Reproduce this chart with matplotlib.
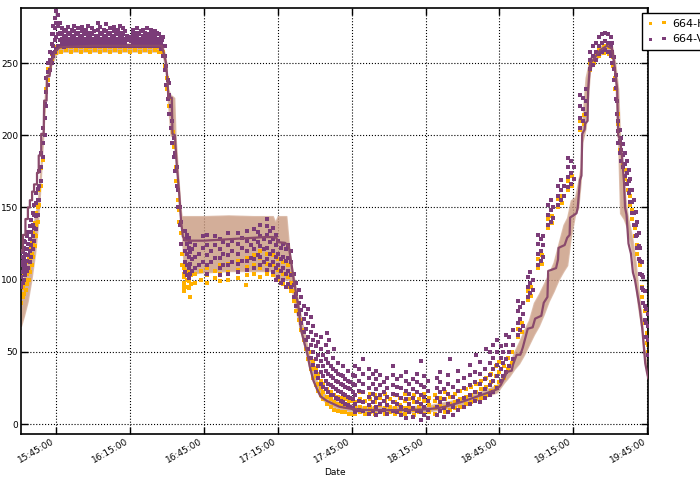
import numpy as np
import matplotlib
matplotlib.use("Agg")
import matplotlib.pyplot as plt
import matplotlib.dates as mdates
from datetime import datetime

# ---------------- data (minutes after 15:00) ----------------
line_min = [30.8, 31.6, 31.6, 32.6, 32.6, 33.6, 33.6, 34.4, 34.4, 35.3, 35.3, 36.1, 36.1, 37.3, 37.3,
            38.0, 38.0, 39.0, 39.0, 40.0, 40.2, 41.2, 41.3, 42.4, 43.0, 44.0, 44.6, 46.5, 60, 75, 88.0,
            89.7, 90.3, 90.6, 92.0, 92.3, 93.3, 93.5, 94.0, 95.0, 95.8, 96.5, 97.5,
            105, 110, 115, 120, 125, 130, 133, 134.5, 135.0, 138, 139.5,
            140.5, 141.5, 143.5, 144.5, 146.0, 147.0, 148.0, 149.5, 151.0, 152.5, 155, 160, 165, 170,
            180, 190, 195, 200, 203, 206, 210, 215, 220, 224, 225.5, 227, 228, 230, 230.5, 232, 233.5,
            234.5, 236.5, 238.5, 239.5, 242, 243, 244.5, 244.8, 248, 248.8, 249, 251.5, 252.5, 253.5,
            253.7, 256.3, 256.8, 257.7, 258.3, 258.6, 259.6, 259.8, 260.8, 261.0, 261.8, 263.0, 265.9,
            268.7, 270.7, 271.6, 272.8, 273.2, 274.0, 274.8, 275.6, 276.0, 276.6, 277.4, 278.4, 279.2,
            280.0, 281.0, 282.0, 283.0, 283.5, 284.2, 285.0, 285.4]
line_val = [120, 120, 131, 131, 142, 142, 150, 150, 155, 155, 161, 161, 166, 166, 174,
            174, 186, 186, 201, 201, 224, 224, 241, 241, 250, 255, 258, 261, 262, 262, 262,
            250, 237, 226, 226, 201, 200, 193, 180, 160, 140, 130, 127,
            127, 127.5, 128, 128.5, 129, 129.5, 129.5, 129, 126, 125.5, 123,
            112, 100, 80, 65, 55, 49, 40, 30, 24, 19, 16, 12, 10.5, 9.8,
            9.6, 9.8, 10.2, 11, 12, 13.5, 15.5, 18.5, 21.5, 24, 27, 32, 36, 37, 41, 48, 48,
            53, 66, 67, 73, 75, 84, 88, 106, 108, 114, 122, 124, 129, 131,
            143, 146, 150, 169, 172, 201, 204, 208, 210, 231, 250, 252, 259,
            262, 260, 250, 232, 200, 197, 185, 167, 150, 145, 125, 118, 105,
            100, 90, 80, 66, 56, 42, 35, 32]

band_min = [30.8, 32, 33.5, 35, 36.5, 37.5, 38.5, 39.5, 40.5, 41.5, 43, 45, 47, 88, 89.5, 90.5,
            91.5, 93, 93.5, 94.5, 95.5, 96.0, 97, 105, 115, 125, 133, 134, 135, 138.5, 139.5,
            140.5, 142, 144, 146, 148, 150, 152, 155, 160, 170, 195, 205, 215, 224, 227, 229,
            231, 233, 235, 237, 239, 241, 243, 245, 247, 249, 251, 252.5, 254, 255.7, 257, 258,
            258.6, 260, 261.8, 263, 266, 269, 270.7, 272, 273.2, 274.0, 275.5, 277, 279, 280.1,
            281.3, 283, 283.5, 284.5, 285.4]
band_lo = [68, 75, 85, 100, 118, 135, 160, 190, 220, 237, 248, 256, 258, 258, 246, 222,
           200, 198, 190, 165, 142, 135, 104, 105, 106, 106, 106, 101, 100, 100, 100,
           95, 82, 66, 53, 38, 27, 19, 14, 10, 8, 8.5, 11, 16, 22, 29, 33,
           38, 42, 48, 55, 62, 68, 76, 85, 92, 100, 106, 110, 130, 145, 150, 168,
           195, 205, 245, 250, 256, 258, 254, 240, 195, 146, 142, 135, 117, 100,
           81, 63, 51, 40, 31]
band_hi = [96, 103, 115, 128, 145, 152, 172, 198, 228, 243, 253, 261, 263, 264, 254, 232,
           228, 226, 200, 175, 150, 144, 144, 144, 144.5, 144, 144, 140, 144, 144, 125,
           110, 98, 78, 62, 46, 34, 25, 19, 15, 12, 12.5, 16, 21, 27, 36, 41,
           50, 57, 65, 72, 84, 90, 97, 104, 112, 125, 138, 143, 155, 157, 168, 178,
           210, 240, 254, 256, 262, 263, 262, 250, 232, 197, 165, 145, 128, 115,
           95, 70, 56, 44, 35]

# 664-H scatter: time columns and the values observed in each
h_col_min = [31.0, 31.6, 32.2, 32.8, 33.4, 34.0, 34.6, 35.2, 35.8, 36.4, 37.0, 37.6, 38.3, 39.0, 39.7,
             40.4, 41.1, 41.8, 42.5, 43.2,
             45, 47, 49, 51, 53, 55, 57, 59, 61, 63, 65, 67, 69, 71, 73, 75, 77, 79, 81, 83, 85, 87,
             88.4, 89.2, 90.0, 90.8, 91.6, 92.4, 93.0, 93.8, 94.4, 95.0, 95.6, 96.2, 96.8,
             97.0, 98.0, 99.0, 99.5, 100.0, 101.5, 104.0, 106.3, 109.5, 111.6, 114.8, 118.9, 122.0,
             122.5, 125.4, 127.8, 130.7, 133.1, 135.1, 137.2, 139.2,
             140.5, 141.5, 142.5, 143.5, 144.5, 145.5, 146.5, 147.5, 148.5, 149.5, 150.5, 151.5,
             152.5, 153.5, 155.0, 156.5, 158.0, 159.5, 161.0, 162.5, 164.0, 165.5,
             166.5, 168.5, 170.5, 172.5, 174.5, 176.5, 178.5, 180.5, 182.5, 184.5, 186.5, 188.5,
             190.5, 192.5, 194.5, 196.5, 199.0, 201.0, 203.0, 205.0, 207.0, 209.0, 211.5, 213.5,
             215.5, 217.5, 219.5, 221.5, 223.5, 225.0,
             227.0, 228.5, 230.0, 232.5, 234.0, 236.5, 238.0, 240.8, 242.3, 244.8, 246.3, 248.8,
             250.5, 252.9, 254.5, 257.8, 259.5, 261.8, 263.5, 265.5, 267.5, 269.5,
             271.0, 272.0, 273.0, 274.0, 275.0, 276.0, 277.0, 278.0, 279.0, 280.0, 281.0, 282.0,
             283.0, 284.0, 284.8, 285.3]
h_col_vals = [[84, 90, 96, 100], [88, 94, 100], [90, 97, 104], [93, 100, 108], [97, 104, 112],
              [100, 108, 116], [105, 113, 121], [110, 118, 126], [116, 124, 132], [123, 131, 139],
              [130, 138, 146], [140, 150], [152, 162], [165, 177], [183, 195],
              [200, 212], [220, 232], [238, 246], [246, 252], [252, 256],
              [257, 261], [258, 261], [259, 262], [258, 261], [259, 262], [258, 261], [259, 262],
              [258, 261], [259, 262], [258, 261], [259, 262], [258, 261], [259, 262], [258, 261],
              [259, 262], [258, 261], [259, 262], [258, 261], [259, 262], [258, 261], [259, 262],
              [258, 261],
              [258, 262], [248, 255], [232, 240], [220, 226], [205, 215], [195, 202], [185, 192],
              [168, 178], [155, 162], [140, 148], [125, 132], [110, 118], [95, 102, 108],
              [92, 98, 104, 110], [95, 100, 106], [94, 99, 105], [88], [97, 103], [98, 104],
              [100, 106], [98, 103, 108], [101, 106], [99, 104, 110], [100, 105, 111],
              [101, 107, 113], [96], [103, 109, 115], [104, 110, 117], [102, 108, 115, 120],
              [104, 111, 118], [103, 110, 117], [100, 107, 114], [97, 104, 112], [95, 102, 110],
              [92, 98, 104], [85, 92], [78, 85], [72, 78], [65, 72], [58, 65], [52, 58], [45, 52],
              [38, 45, 50], [32, 38, 44], [27, 33, 39], [23, 28, 35], [20, 25, 30], [17, 22, 28],
              [14, 19, 24], [12, 17, 22], [10, 15, 20], [9, 14, 19], [8, 13, 18], [8, 12, 17],
              [7, 12, 16], [7, 11, 16],
              [7, 11, 15, 20], [8, 12, 17, 22], [7, 11, 16], [8, 12, 17, 21], [7, 11, 15, 20],
              [8, 13, 18], [7, 11, 16, 21], [8, 12, 17], [7, 11, 15, 20], [8, 13, 18],
              [7, 11, 16, 21], [8, 12, 17], [6, 10, 15, 20], [8, 12, 17], [7, 11, 16, 21],
              [8, 13, 18], [7, 11, 16, 20], [9, 13, 18], [8, 12, 17, 22], [10, 14, 19],
              [11, 15, 21], [12, 17, 23], [14, 19, 24], [15, 20, 26], [17, 22, 28], [18, 24, 30],
              [20, 26, 32], [23, 29, 35], [26, 33, 40], [29, 36, 43],
              [32, 40], [38, 46], [42, 50], [60, 66], [64, 70], [86, 92], [89, 95], [108, 114],
              [111, 117], [136, 142], [139, 144], [150, 156], [153, 158], [162, 168], [165, 172],
              [204, 210], [208, 214], [245, 250], [250, 255], [255, 260], [257, 262], [256, 261],
              [248, 254], [232, 240], [208, 215], [190, 196], [180, 186], [170, 176], [162, 168],
              [152, 158], [142, 148], [130, 136], [118, 124], [104, 110], [88, 95], [70, 78],
              [56, 63], [50, 55]]

# 664-V scatter
v_col_min = [31.0, 31.5, 32.0, 32.6, 33.2, 33.8, 34.4, 35.0, 35.6, 36.2, 36.9, 37.6, 38.3, 39.0,
             39.7, 40.4, 41.1, 41.8, 42.5, 43.2, 43.9, 44.6, 45.2, 45.9,
             46.8, 47.6, 48.4, 49.2, 50.0, 50.8, 51.6, 52.4, 53.2, 54.0, 54.8, 55.6, 56.4, 57.2,
             58.0, 58.8, 59.6, 60.4, 61.2, 62.0, 62.8, 63.6, 64.4, 65.2, 66.0, 66.8, 67.6, 68.4,
             69.2, 70.0, 70.8, 71.6, 72.4, 73.2, 74.0, 75.6, 76.4, 77.2, 78.0, 78.8, 79.6, 80.4,
             81.2, 82.0, 82.8, 83.6, 84.4, 85.2, 86.0, 86.8, 87.6,
             88.0, 88.6, 89.2, 89.8, 90.4, 91.0, 91.6, 92.2, 92.8, 93.4, 94.0, 94.6, 95.2, 95.8,
             97.2, 98.0, 98.8, 99.6, 100.4, 101.4, 103.0, 104.5, 106.3, 108.0, 109.5, 111.6,
             113.0, 114.8, 116.5, 118.9, 120.5, 122.5, 124.0, 125.4, 127.0, 127.8, 129.5, 130.7,
             132.0, 133.1, 134.5, 135.1, 136.3, 137.2, 138.3, 139.2,
             140.5, 141.5, 142.5, 143.5, 144.5, 145.5, 146.5, 147.5, 148.5, 149.5, 150.5, 151.5,
             152.5, 153.5, 154.5, 155.0, 155.5, 156.0, 156.5, 157.5, 158.0, 158.5, 159.5, 160.5,
             161.5, 162.5, 163.5, 164.5, 165.5,
             166.5, 168.0, 169.5, 172.0, 173.5, 175.0, 176.5, 178.0, 179.5, 182.0, 183.5, 185.0,
             187.0, 188.5, 190.0, 191.5, 193.0, 194.5, 196.0, 199.5, 201.0, 202.5, 204.0, 205.0,
             206.0, 208.0, 210.5, 213.0, 215.0, 215.5, 217.0, 219.0, 219.5, 221.0, 222.5, 224.0,
             225.5, 226.5, 227.5, 229.0, 230.5, 232.5, 233.5, 234.5, 236.5, 237.5, 238.5, 240.8,
             241.8, 242.8, 244.8, 245.8, 246.8, 248.8, 250.0, 251.2, 252.9, 254.0, 255.2, 257.8,
             259.0, 260.2, 261.8, 263.0, 264.2, 265.5, 266.8, 268.0, 269.2, 270.2,
             270.8, 271.5, 272.3, 272.8, 273.2, 273.8, 274.5, 275.2, 276.0, 276.8, 277.5, 278.2,
             278.9, 279.6, 280.3, 281.0, 281.6, 282.2, 282.8, 283.4, 284.0, 284.6, 285.2]
v_col_vals = [[95, 102, 110, 116, 120], [98, 105, 112, 119], [100, 108, 115, 122, 127],
              [103, 110, 118, 126], [106, 113, 121, 130], [108, 117, 125, 133],
              [112, 120, 128, 137], [116, 124, 133, 141], [121, 130, 138, 146],
              [127, 136, 145, 152], [135, 144, 153, 160], [145, 155, 163], [155, 165, 175],
              [168, 178, 188], [185, 195, 205], [200, 212, 222], [220, 230, 240], [235, 244, 250],
              [245, 252, 258], [250, 257, 263, 270], [255, 262, 270, 276], [258, 266, 274, 281],
              [260, 268, 278, 286], [262, 270, 276, 283],
              [262, 266, 271, 278], [263, 267, 270, 274], [261, 265, 269, 273], [263, 268, 272],
              [262, 266, 270, 275], [264, 267, 271], [262, 265, 269, 273], [263, 268, 272, 276],
              [262, 266, 270], [264, 267, 271, 274], [262, 266, 269], [263, 268, 272, 275],
              [262, 265, 270], [264, 267, 271, 273], [262, 266, 269, 276], [263, 268, 271],
              [262, 265, 270, 274], [264, 267, 272], [262, 266, 269], [263, 268, 273, 278],
              [262, 265, 270, 275], [264, 267, 271], [262, 266, 269, 273], [263, 268, 272, 277],
              [262, 265, 270], [264, 267, 271, 274], [262, 266, 269], [263, 268, 272, 275],
              [262, 265, 270], [264, 267, 271, 273], [262, 266, 269, 276], [263, 268, 271],
              [262, 265, 270, 274], [264, 267, 272], [262, 266, 269], [262, 265, 268],
              [263, 267, 270, 273], [262, 266, 269], [264, 268, 271, 274], [262, 265, 270],
              [263, 267, 272], [262, 266, 269, 273], [264, 268, 271], [262, 265, 270, 274],
              [263, 267, 269], [262, 266, 271, 273], [264, 268, 270], [262, 265, 269, 272],
              [263, 267, 271], [262, 266, 270], [260, 264, 268],
              [262, 266], [255, 262, 268], [245, 255, 262], [235, 248], [225, 238],
              [215, 228, 236], [205, 220], [195, 210], [185, 198], [175, 188], [165, 178],
              [150, 162], [138, 150], [125, 140],
              [105, 112, 120, 128, 134], [103, 110, 118, 125, 131], [101, 108, 116, 122, 129],
              [104, 111, 119, 126], [106, 114, 121], [108, 116, 124], [110, 118], [112, 122, 130],
              [104, 110, 117, 124, 131], [112, 120], [115, 124, 130], [103, 108, 115, 121, 128],
              [110, 118, 126], [104, 110, 117, 124, 132], [112, 120, 127],
              [105, 111, 118, 125, 132], [113, 122, 129], [107, 113, 120, 127, 134], [115, 124],
              [108, 114, 121, 128, 135], [117, 126, 133], [110, 116, 123, 130, 138],
              [112, 121, 128], [107, 114, 122, 131, 137, 142], [110, 118, 126, 134],
              [105, 112, 120, 128, 136], [100, 108, 116, 124, 131], [102, 110, 118, 127],
              [98, 106, 114, 122], [100, 108, 116, 125], [95, 104, 113, 121], [97, 106, 115, 124],
              [95, 103, 112, 120], [88, 96, 104], [82, 90, 98], [76, 84, 93], [70, 79, 88],
              [64, 73, 82], [58, 66, 76], [52, 60, 70, 80], [46, 55, 64, 74], [41, 50, 58, 68],
              [36, 45, 54, 62], [32, 40, 48, 57], [28, 36, 44, 52, 60], [26, 33, 40, 48],
              [24, 30, 37, 45, 55], [63], [22, 28, 35, 42, 50], [58], [20, 27, 33, 40],
              [20, 26, 32, 38, 46], [52], [18, 24, 30, 37], [17, 23, 29, 35, 42], [16, 22, 28, 34],
              [15, 21, 27, 33, 40], [14, 20, 26, 31], [13, 19, 25, 30, 37], [12, 18, 24, 29],
              [11, 17, 22, 28, 34],
              [8, 14, 20, 27, 33, 40], [10, 16, 23, 30, 38], [9, 15, 22, 28, 35, 45],
              [7, 13, 19, 25, 32, 38], [9, 15, 21, 28, 35], [6, 12, 18, 24, 31, 37],
              [8, 14, 20, 27, 34], [10, 16, 22, 29], [7, 13, 19, 25, 32],
              [9, 15, 21, 27, 34, 40], [8, 14, 20, 26, 31], [6, 12, 18, 25, 33],
              [4, 10, 17, 23, 30, 36], [8, 14, 21, 28], [5, 11, 18, 24, 31],
              [9, 15, 22, 29, 35], [3, 8, 14, 20, 27, 44], [6, 12, 19, 26, 33],
              [4, 10, 16, 23, 30], [6, 12, 18, 25, 32], [9, 15, 22, 29, 36], [5, 11, 17, 24],
              [8, 14, 21, 28, 34], [45], [6, 12, 19, 26], [10, 16, 23, 30, 37], [12, 18, 25, 32],
              [14, 20, 27, 34, 41], [16, 22, 29, 36], [48], [15, 21, 28, 35, 43], [18, 24, 31, 38],
              [52], [20, 27, 34, 42, 50], [22, 30, 38, 46, 55], [25, 33, 41, 50, 58],
              [30, 38, 46, 54], [33, 42, 50], [36, 45, 55, 62], [40, 50, 60], [45, 55, 65],
              [62, 70, 78, 85], [65, 73, 81], [68, 76, 84], [88, 95, 102], [91, 98, 105],
              [93, 100], [110, 118, 125, 131], [113, 120, 128], [116, 124, 130],
              [138, 145, 152], [140, 148, 155], [143, 150], [152, 158, 165], [155, 162, 169],
              [158, 165], [164, 171, 178, 184], [166, 174, 182], [170, 178],
              [205, 212, 220, 228], [210, 218, 226], [215, 224, 232], [246, 252, 258],
              [249, 255, 262], [252, 258, 264], [256, 262, 268], [258, 264, 270],
              [259, 265, 271], [258, 264, 270], [255, 262, 268],
              [250, 258, 264], [238, 246, 254], [225, 233, 242], [215, 224], [195, 203, 210],
              [188, 196, 204], [182, 190, 198], [178, 186, 194], [172, 180, 188],
              [166, 174, 182], [160, 168, 176], [154, 162, 170], [146, 154, 162],
              [138, 146, 155], [130, 138, 147], [122, 131, 140], [114, 123, 132],
              [104, 113, 122], [94, 103, 112], [84, 93, 102], [72, 82, 92], [60, 70, 80],
              [48, 58, 68, 76]]

series_labels = ["664-H", "664-V"]
y_ticks = [0, 50, 100, 150, 200, 250]

# ---------------- helpers ----------------
base = mdates.date2num(datetime(2016, 1, 1, 15, 0))


def to_num(minutes):
    return base + np.asarray(minutes, dtype=float) / 1440.0


def expand(cols, vals):
    xs, ys = [], []
    for m, vs in zip(cols, vals):
        for v in vs:
            xs.append(m)
            ys.append(v)
    return to_num(xs), np.array(ys, dtype=float)


hx, hy = expand(h_col_min, h_col_vals)
vx, vy = expand(v_col_min, v_col_vals)

# ---------------- plot ----------------
fig = plt.figure(figsize=(7.0, 4.84), dpi=100)
ax = fig.add_axes([0.03, 0.103, 0.896, 0.880])

ax.fill_between(to_num(band_min), band_lo, band_hi, color="#c99a80", alpha=0.8,
                linewidth=1.0, edgecolor="#d8b4a0", zorder=1)
ax.scatter(hx, hy, s=12, marker="s", color="#ffb000", linewidths=0, zorder=2,
           label=series_labels[0])
ax.scatter(vx, vy, s=12, marker="s", color="#7b3c78", linewidths=0, zorder=3,
           label=series_labels[1])
ax.plot(to_num(line_min), line_val, color="#8a4a6c", linewidth=1.6, zorder=4)

ax.set_xlim(to_num([30.8])[0], to_num([285.4])[0])
ax.set_ylim(-7, 288)
ax.set_yticks(y_ticks)
ax.xaxis.set_major_locator(mdates.MinuteLocator(byminute=[15, 45]))
ax.xaxis.set_major_formatter(mdates.DateFormatter("%H:%M:%S"))
ax.grid(True, color="black", linestyle=":", linewidth=0.8)
ax.set_axisbelow(True)
ax.tick_params(direction="in", top=True, right=True, labelsize=6.5, length=5, width=1, pad=2)
for lab in ax.get_xticklabels():
    lab.set_rotation(30)
    lab.set_ha("right")
for s in ax.spines.values():
    s.set_linewidth(1.2)
ax.set_xlabel("Date", fontsize=6.5, labelpad=2)

leg = ax.legend(loc="upper left", bbox_to_anchor=(0.917, 0.973), bbox_transform=fig.transFigure,
                borderaxespad=0, scatterpoints=2, fontsize=8, fancybox=False, framealpha=1,
                edgecolor="black", handlelength=1.8, handletextpad=0.4, borderpad=0.5,
                markerscale=0.7)
leg.get_frame().set_linewidth(1.0)

fig.savefig("out.png", dpi=100)
